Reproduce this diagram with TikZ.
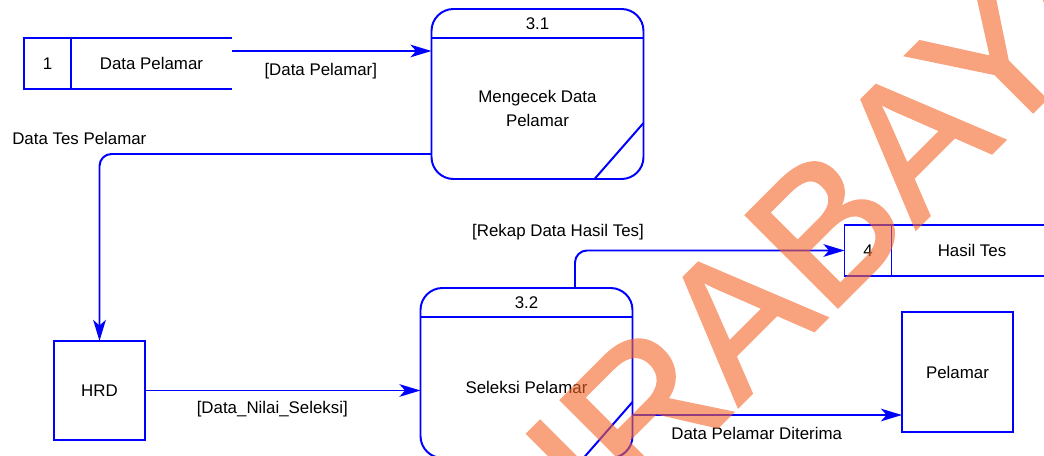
\documentclass[tikz,border=0pt]{standalone}
\usepackage{fontspec}
\setmainfont{Liberation Sans}
\newfontfamily\wmfont[FakeBold=1.6]{Liberation Sans}
\usetikzlibrary{arrows.meta,positioning}
\definecolor{wmorange}{RGB}{245,100,40}
\tikzset{%
    lne/.style={line width=1.4pt, blue},
    flw/.style={line width=1.4pt, blue, -{Stealth[length=15pt, width=9pt, inset=4pt]}},
    prc/.style={rectangle, draw=blue, line width=1.4pt, rounded corners=0.55cm, minimum width=5.3cm, minimum height=4.25cm, inner sep=0pt, outer sep=0pt},
    ent/.style={rectangle, draw=blue, line width=1.4pt, inner sep=0pt, outer sep=0pt},
    sto/.style={rectangle, draw=blue, line width=1.4pt, minimum width=1.175cm, minimum height=1.275cm, inner sep=0pt, outer sep=0pt},
    stt/.style={rectangle, minimum width=4.025cm, minimum height=1.275cm, inner sep=0pt, outer sep=0pt},
    lab/.style={inner sep=0pt, text=black},
    wmk/.style={inner sep=0pt, text=wmorange, font=\wmfont\fontsize{134}{134}\selectfont},
}

\begin{document}
\begin{tikzpicture}[every node/.style={font=\fontsize{12}{17}\selectfont}]
    \useasboundingbox (0,0) rectangle (26.1,11.375);
    \clip (0,0) rectangle (26.1,11.375);
    % data stores
    \node[sto] (ds1) at (1.1875,9.7875) {1};
    \node[stt, right=0pt of ds1] (ds1t) {Data Pelamar};
    \draw[lne] (ds1t.north west) -- (ds1t.north east) (ds1t.south west) -- (ds1t.south east);
    \node[sto] (ds4) at (21.7,5.1125) {4};
    \node[stt, right=0pt of ds4] (ds4t) {Hasil Tes};
    \draw[lne] (ds4t.north west) -- (ds4t.north east) (ds4t.south west) -- (ds4t.south east);
    % processes
    \node[prc] (p31) at (13.4375,9.025) {};
    \draw[lne] ([yshift=-0.725cm]p31.north west) -- ([yshift=-0.725cm]p31.north east);
    \draw[lne] ([yshift=-2.85cm]p31.north east) -- ([xshift=-1.225cm]p31.south east);
    \node (p31n) at ([yshift=-0.3625cm]p31.north) {3.1};
    \node[align=center] (p31t) at ([yshift=-0.3625cm]p31.center) {Mengecek Data\\Pelamar};
    \node[prc] (p32) at (13.1625,2.05) {};
    \draw[lne] ([yshift=-0.725cm]p32.north west) -- ([yshift=-0.725cm]p32.north east);
    \draw[lne] ([yshift=-2.85cm]p32.north east) -- ([xshift=-1.225cm]p32.south east);
    \node (p32n) at ([yshift=-0.3625cm]p32.north) {3.2};
    \node (p32t) at ([yshift=-0.3625cm]p32.center) {Seleksi Pelamar};
    % entities
    \node[ent, minimum width=2.275cm, minimum height=2.475cm] (hrd) at (2.4875,1.6125) {HRD};
    \node[ent, minimum width=2.775cm, minimum height=3cm] (pel) at (23.9375,2.075) {Pelamar};
    % flows
    \coordinate (f1) at ([yshift=0.3125cm]ds1t.east);
    \draw[flw] (f1) -- (f1 -| p31.west) node[lab, pos=0.445, yshift=-0.5cm] (l1) {[Data Pelamar]};
    \coordinate (f2) at ([yshift=0.625cm]p31.south west);
    \draw[flw, rounded corners=0.3cm] (f2) -| (hrd.north);
    \node[lab, anchor=west] (l2) at (0.3,7.925) {Data Tes Pelamar};
    \draw[flw] (hrd.east) -- (hrd.east -| p32.west) node[lab, pos=0.462, yshift=-0.475cm] (l3) {[Data\_Nilai\_Seleksi]};
    \coordinate (f4) at ([xshift=1.2125cm]p32.north);
    \draw[flw, rounded corners=0.3cm] (f4) |- (ds4.west);
    \node[lab] (l4) at (13.95,5.575) {[Rekap Data Hasil Tes]};
    \coordinate (f5) at ([yshift=-1.05cm]p32.east);
    \draw[flw] (f5) -- (f5 -| pel.west) node[lab, pos=0.461, yshift=-0.45cm] (l5) {Data Pelamar Diterima};
    % watermark
    \begin{scope}[transparency group, opacity=0.6]
        \node[wmk, rotate=45] (wm) at (19.1,4.15) {SURABAYA};
    \end{scope}
\end{tikzpicture}
\end{document}
